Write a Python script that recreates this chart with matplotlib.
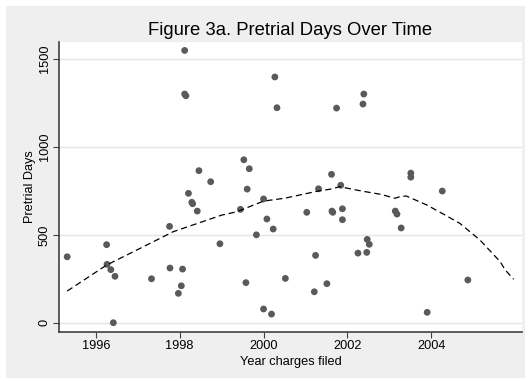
# plot.py
# pretrial days vs. year charges filed, with smoothed trend

import matplotlib.pyplot as plt

# =========================
# DATA
# =========================

filed_year = [
    1995.32, 1996.26, 1996.27, 1996.36, 1996.42, 1996.46, 1997.33, 1997.76,
    1997.77, 1997.97, 1998.04, 1998.07, 1998.12, 1998.12, 1998.15, 1998.21,
    1998.29, 1998.31, 1998.42, 1998.46, 1998.74, 1998.96, 1999.45, 1999.53,
    1999.58, 1999.61, 1999.66, 1999.83, 2000.00, 2000.00, 2000.08, 2000.19,
    2000.23, 2000.27, 2000.32, 2000.52, 2001.03, 2001.21, 2001.24, 2001.31,
    2001.51, 2001.62, 2001.63, 2001.65, 2001.74, 2001.84, 2001.88, 2001.88,
    2002.25, 2002.37, 2002.39, 2002.46, 2002.47, 2002.52, 2003.14, 2003.18,
    2003.28, 2003.51, 2003.51, 2003.90, 2004.26, 2004.87,
]

pretrial_days = [
    375, 444, 332, 302, 0, 264, 250, 548,
    311, 167, 210, 305, 1549, 1301, 1291, 736,
    685, 677, 635, 865, 802, 449, 645, 927,
    228, 760, 876, 500, 704, 78, 590, 49,
    533, 1398, 1223, 252, 628, 176, 383, 762,
    222, 844, 635, 628, 1221, 782, 648, 586,
    396, 1244, 1301, 400, 474, 446, 635, 618,
    539, 851, 828, 59, 749, 243,
]

# smoothed trend
trend_year = [
    1995.32, 1996.0, 1996.26, 1997.0, 1997.85, 1998.5, 1999.0, 1999.36,
    2000.0, 2000.5, 2001.3, 2001.6, 2001.82, 2002.0, 2002.34, 2002.8,
    2003.13, 2003.25, 2003.4, 2003.89, 2004.3, 2004.68, 2005.16, 2005.64,
    2005.76, 2005.96,
]

trend_days = [
    180, 287, 328, 416, 518, 571, 612, 631,
    692, 708, 749, 760, 774, 765, 749, 730,
    708, 717, 721, 670, 616, 565, 470, 347,
    300, 247,
]

# =========================
# STYLE
# =========================

plt.rcParams['font.family'] = ['Liberation Sans', 'DejaVu Sans']

fig = plt.figure(figsize=(5.30, 3.81), dpi=100)
fig.patch.set_facecolor('white')

# gray graph region with thin white margin
fig.patches.append(plt.Rectangle(
    (6 / 530, 3 / 381), 519 / 530, 372 / 381,
    transform=fig.transFigure, facecolor='#efefef', edgecolor='none', zorder=-10
))

ax = fig.add_axes([59 / 530, 49.4 / 381, 463 / 530, 289.6 / 381])
ax.set_facecolor('white')

# =========================
# POINTS + TREND
# =========================

ax.scatter(
    filed_year,
    pretrial_days,
    s=24,
    color='#5a5a5a',
    edgecolors='none',
    zorder=3
)

ax.plot(
    trend_year,
    trend_days,
    color='black',
    linewidth=0.9,
    dashes=(5, 3),
    zorder=4
)

# =========================
# AXES
# =========================

ax.set_xlim(1995.125, 2006.16)
ax.set_ylim(-50.6, 1597)

ax.set_xticks([1996, 1998, 2000, 2002, 2004])
ax.set_yticks([0, 500, 1000, 1500])
ax.set_yticklabels(['0', '500', '1000', '1500'], rotation=90, va='center')

ax.grid(axis='y', color='#e4e4e4', linewidth=1.0)
ax.set_axisbelow(True)

for side in ['top', 'right']:
    ax.spines[side].set_visible(False)
for side in ['left', 'bottom']:
    ax.spines[side].set_color('#404040')
    ax.spines[side].set_linewidth(1.2)

ax.tick_params(
    axis='both', direction='out', length=4, width=0.8,
    color='#404040', labelsize=9.2, labelcolor='black', pad=2
)

ax.set_xlabel('Year charges filed', fontsize=9.2, labelpad=3)
ax.set_ylabel('Pretrial Days', fontsize=9.2, labelpad=2)

ax.set_title(
    'Figure 3a. Pretrial Days Over Time',
    fontsize=13.3,
    pad=5
)

fig.savefig('out.png', dpi=100, facecolor=fig.get_facecolor())
